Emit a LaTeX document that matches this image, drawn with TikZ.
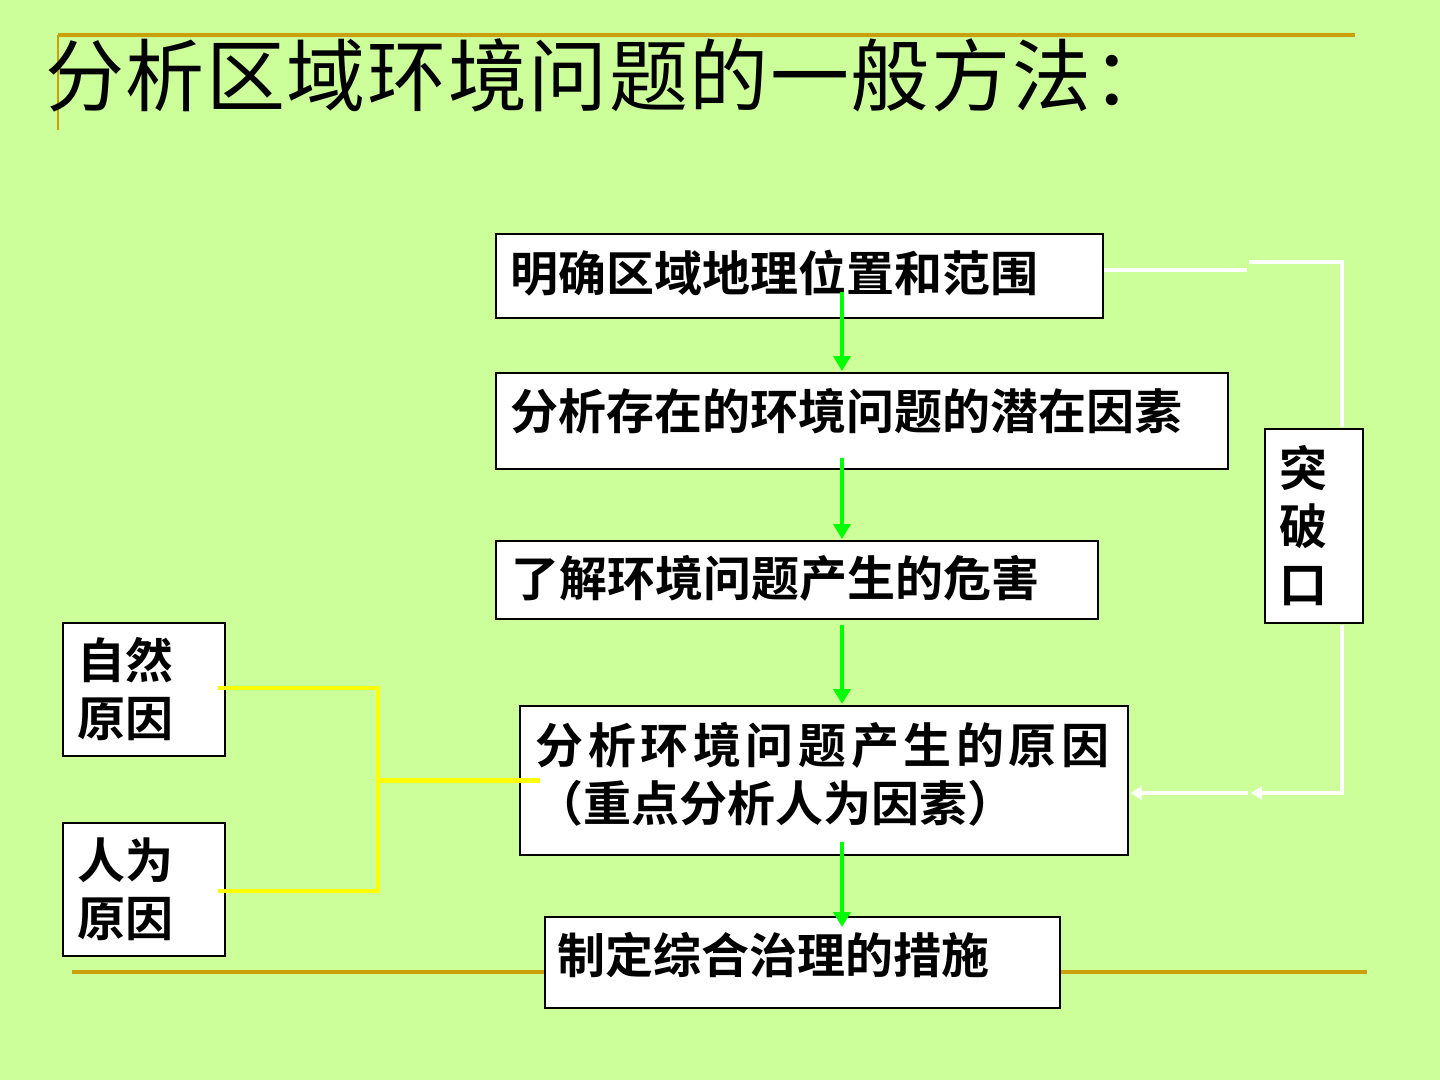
\documentclass[tikz,border=0pt]{standalone}
\usepackage{fontspec}
\newfontfamily\cjk{Noto Sans CJK SC}[LetterSpace=2]
\newfontfamily\cjkb{Noto Sans CJK SC Bold}
\newfontfamily\cjkbs{Noto Sans CJK SC Bold}[LetterSpace=9.5]
\usetikzlibrary{arrows.meta}
\definecolor{bg}{HTML}{CCFF99}
\definecolor{gold}{HTML}{C9A00A}
\definecolor{arrowgreen}{HTML}{00FF00}
\definecolor{linkyellow}{HTML}{FFFF00}
\newcommand{\upby}[2]{\raisebox{0pt}[\height][\dimexpr\depth+#1\relax]{#2}}
\begin{document}
\begin{tikzpicture}[x=1pt,y=-1pt,
  box/.style={draw=black,line width=1.5pt,fill=white,anchor=north west,inner ysep=0pt,
    align=left,font=\cjkb\fontsize{48}{58}\selectfont},
  garrow/.style={arrowgreen,line width=4.5pt,-{Triangle[width=17pt,length=15pt]}},
  warrow/.style={white,line width=4pt,-{Triangle[width=13pt,length=11pt]}},
  wline/.style={white,line width=4pt},
  yline/.style={linkyellow,line width=4.5pt},
  goldline/.style={gold,line width=4pt}]
\fill[bg] (0,0) rectangle (1440,1080);
\useasboundingbox (0,0) rectangle (1440,1080);

% decorative gold rules
\coordinate (g1) at (58,35);
\coordinate (g2) at (1355,35);
\coordinate (g3) at (58,130);
\coordinate (g4) at (72,972);
\coordinate (g5) at (1367,972);
\draw[goldline] (g1) -- (g2);
\draw[gold,line width=2.5pt] (g1) -- (g3);
\draw[goldline] (g4) -- (g5);

% title
\node[anchor=west,inner sep=0pt,font=\cjk\fontsize{79}{84}\selectfont] (title) at (45,75) {分析区域环境问题的一般方法：};

% helper coordinates
\coordinate (ax) at (842,0);
\coordinate (wx) at (1342,0);
\coordinate (yx) at (378,0);
\coordinate (wj) at (1247,0);
\coordinate (wtop) at (1249,262);
\coordinate (wmid) at (1251,793);

% boxes
\node[box,minimum width=607pt,minimum height=84pt,inner xsep=15pt,text width=577pt] (b1) at (495,233) {\upby{6pt}{明确区域地理位置和范围}};
\node[box,minimum width=732pt,minimum height=96pt,inner xsep=15pt,text width=702pt] (b2) at (495,372) {\upby{20pt}{分析存在的环境问题的潜在因素}};
\node[box,minimum width=602pt,minimum height=78pt,inner xsep=16pt,text width=570pt] (b3) at (495,540) {\upby{3pt}{了解环境问题产生的危害}};
\node[box,minimum width=608pt,minimum height=149pt,inner xsep=16pt,text width=576pt] (b4) at (519,705) {{\cjkbs 分析环境问题产生的原因}\\\upby{12pt}{（重点分析人为因素）}};
\node[box,minimum width=515pt,minimum height=91pt,inner xsep=13pt,text width=489pt] (b5) at (544,916) {\upby{14pt}{制定综合治理的措施}};
\node[box,minimum width=162pt,minimum height=133pt,inner xsep=15pt,text width=132pt] (b6) at (62,622) {自然\\原因};
\node[box,minimum width=162pt,minimum height=133pt,inner xsep=15pt,text width=132pt] (b7) at (62,822) {人为\\原因};
\node[box,minimum width=98pt,minimum height=194pt,inner xsep=15pt,text width=68pt] (b8) at (1264,428) {突\\破\\口};

% white feedback connector
\coordinate (w1) at ([yshift=6pt]b1.east);
\draw[wline] (w1) -- (w1 -| wj);
\draw[wline] (wtop) -| ([yshift=1pt]b8.north -| wx);
\draw[warrow] ([yshift=-1pt]b8.south -| wx) |- (wmid);
\draw[warrow] ([xshift=-3pt]wmid) -- ([xshift=2pt]b4.east |- wmid);

% green arrows
\draw[garrow] ([yshift=27pt]b1.south -| ax) -- ([yshift=1pt]b2.north -| ax);
\draw[garrow] ([yshift=12pt]b2.south -| ax) -- ([yshift=1pt]b3.north -| ax);
\draw[garrow] ([yshift=-5pt]b3.south -| ax) -- ([yshift=1pt]b4.north -| ax);
\draw[garrow] ([yshift=14pt]b4.south -| ax) -- ([yshift=-11pt]b5.north -| ax);

% yellow cause connectors
\draw[yline] ([xshift=-8pt,yshift=1.5pt]b6.east) -- ([yshift=1.5pt]b6.east -| yx) -- ([yshift=-1.5pt]b7.east -| yx) -- ([xshift=-8pt,yshift=-1.5pt]b7.east);
\draw[yline] (b4.west -| yx) -- ([xshift=21pt]b4.west);
\end{tikzpicture}
\end{document}
